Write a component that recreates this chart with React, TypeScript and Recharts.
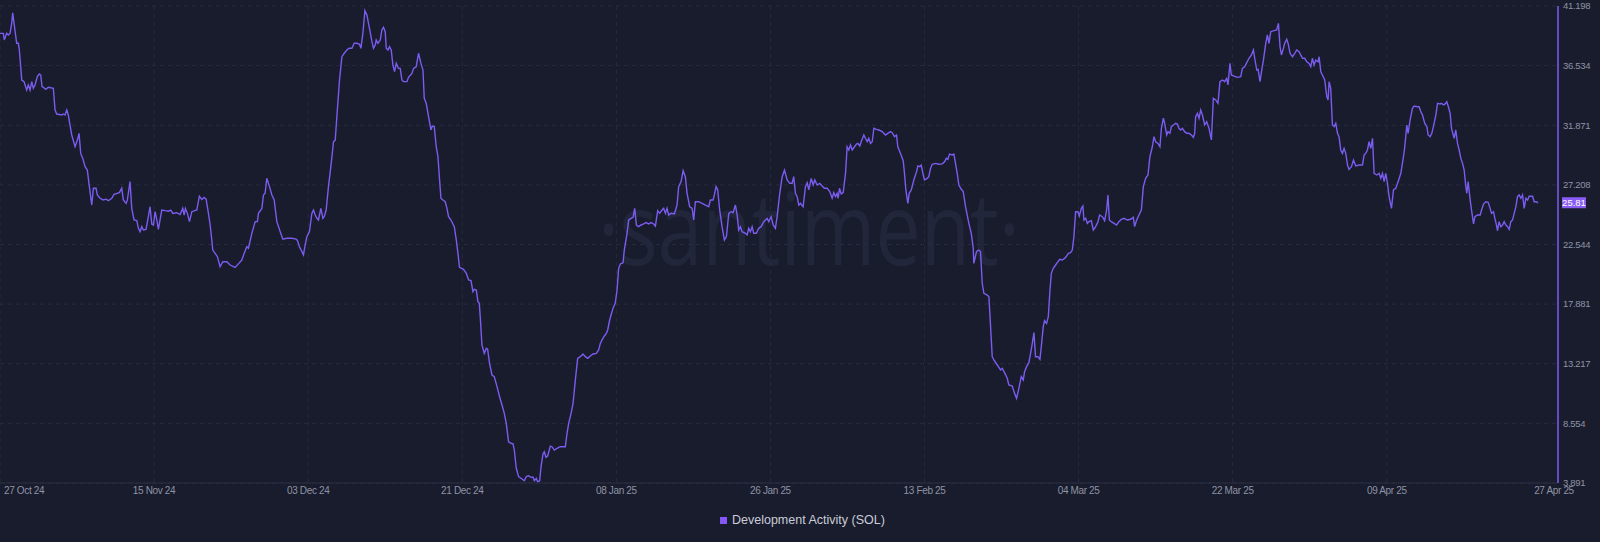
import React from 'react';
import { LineChart, Line, XAxis, YAxis, CartesianGrid, ReferenceLine } from 'recharts';

// Days since 27 Oct 24
const dayOffsets = [
  0.00,0.39,0.50,0.78,0.97,1.17,1.37,1.48,1.64,1.95,
  2.14,2.26,2.42,2.54,2.81,3.12,3.31,3.51,3.71,3.89,
  4.09,4.36,4.59,4.76,4.91,5.06,5.34,5.65,6.23,6.43,
  6.63,7.21,7.40,7.60,7.80,7.98,8.18,8.38,8.77,9.04,
  9.23,9.43,9.67,9.94,10.20,10.44,10.72,10.91,11.22,11.37,
  11.69,12.07,12.39,12.66,13.06,13.32,13.94,14.22,14.41,14.73,
  14.88,15.19,15.39,15.66,15.98,16.17,16.36,16.56,16.75,17.06,
  17.33,17.53,17.73,17.92,18.12,18.32,18.50,18.90,19.29,19.67,
  19.95,20.19,20.65,21.04,21.35,21.51,21.66,21.89,22.13,22.41,
  22.99,23.29,23.58,23.84,24.08,24.35,24.55,24.74,24.86,25.13,
  25.40,25.71,26.03,26.50,26.88,27.47,27.85,28.25,28.52,28.83,
  29.02,29.42,29.81,30.07,30.19,30.59,30.78,30.97,31.17,31.48,
  31.76,32.03,32.34,32.73,33.04,33.51,34.09,34.60,34.75,34.98,
  35.18,35.45,35.65,35.85,36.15,36.43,36.62,36.82,37.02,37.20,
  37.48,37.72,37.87,38.10,38.37,38.69,38.96,39.16,39.35,39.66,
  39.94,40.21,40.52,40.79,41.11,41.38,41.69,42.00,42.16,42.39,
  42.63,42.86,43.16,43.45,43.63,43.83,43.95,44.15,44.42,44.61,
  44.80,45.00,45.12,45.32,45.50,45.70,45.90,46.09,46.29,46.55,
  46.75,46.95,47.14,47.54,47.72,48.12,48.31,48.62,48.89,49.17,
  49.41,49.56,49.79,50.06,50.34,50.49,50.73,50.96,51.16,51.35,
  51.51,51.74,52.01,52.21,52.40,52.68,52.91,53.07,53.30,53.45,
  53.68,54.15,54.47,54.74,55.02,55.25,55.40,55.64,55.83,55.99,
  56.10,56.30,56.57,56.81,56.96,57.19,57.47,57.74,58.06,58.36,
  58.64,58.91,59.14,59.41,59.69,59.93,60.08,60.31,60.58,60.86,
  61.25,61.48,61.75,62.03,62.26,62.42,62.65,62.80,63.04,63.20,
  63.43,63.58,63.78,63.97,64.29,64.48,64.75,65.07,65.45,66.04,
  66.24,66.43,66.71,66.94,67.21,67.48,67.79,68.10,68.38,68.65,
  68.96,69.28,69.66,69.93,70.13,70.33,70.60,70.83,70.99,71.22,
  71.38,71.61,71.88,72.08,72.27,72.47,72.78,72.93,73.25,73.44,
  73.72,73.95,74.14,74.34,74.61,74.89,75.19,75.47,75.78,76.06,
  76.36,76.56,76.83,77.06,77.34,77.53,77.73,77.92,78.11,78.39,
  78.78,79.09,79.28,79.56,79.80,80.06,80.26,80.57,80.85,81.04,
  81.23,81.62,82.02,82.40,82.79,82.99,83.30,83.45,83.65,83.84,
  84.07,84.35,84.62,84.86,85.13,85.41,85.64,85.91,86.11,86.29,
  86.49,86.69,87.08,87.28,87.46,87.66,87.86,88.05,88.36,88.63,
  88.91,89.22,89.61,89.80,90.08,90.32,90.58,90.78,91.09,91.37,
  91.64,91.95,92.26,92.53,92.72,92.92,93.12,93.31,93.51,93.82,
  94.09,94.29,94.48,94.76,94.99,95.18,95.46,95.76,96.04,96.31,
  96.63,96.93,97.21,97.40,97.60,97.79,97.91,98.07,98.26,98.50,
  98.77,98.96,99.15,99.35,99.55,99.82,100.05,100.21,100.44,100.60,
  100.91,101.10,101.30,101.49,101.69,101.89,102.08,102.39,102.66,103.06,
  103.44,103.71,104.03,104.22,104.49,104.73,104.88,105.19,105.51,105.66,
  105.82,106.05,106.21,106.45,106.75,107.07,107.22,107.45,107.61,107.85,
  108.00,108.31,108.50,108.70,108.90,109.29,109.67,110.07,110.34,110.54,
  110.72,110.92,111.24,111.43,111.62,111.82,112.01,112.29,112.52,112.79,
  113.18,113.46,113.69,113.76,114.08,114.35,114.54,114.74,114.93,115.33,
  115.52,115.63,115.91,116.10,116.50,116.88,117.08,117.35,117.66,117.85,
  118.25,118.44,118.75,119.02,119.30,119.53,119.69,119.92,120.19,120.39,
  120.59,120.78,120.97,121.24,121.48,121.64,121.87,122.02,122.26,122.46,
  122.64,122.81,123.04,123.31,123.58,123.81,124.09,124.36,124.60,124.80,
  125.06,125.26,125.45,125.65,125.92,126.08,126.32,126.50,126.62,126.82,
  127.02,127.20,127.48,127.72,127.99,128.26,128.45,128.77,129.04,129.27,
  129.43,129.59,129.82,130.13,130.44,130.71,130.99,131.30,131.69,132.08,
  132.39,132.54,132.78,133.05,133.33,133.56,133.83,134.10,134.33,134.61,
  134.80,135.00,135.27,135.50,135.67,135.90,136.05,136.29,136.44,136.67,
  136.83,137.07,137.34,137.53,137.72,137.92,138.12,138.39,138.62,138.89,
  139.17,139.41,139.56,139.67,139.87,140.06,140.26,140.46,140.73,140.96,
  141.23,141.51,141.74,142.01,142.28,142.51,142.79,143.06,143.30,143.45,
  143.68,143.84,144.15,144.55,144.94,145.13,145.40,145.64,145.91,146.19,
  146.42,146.57,146.81,146.96,147.19,147.39,147.59,147.86,148.05,148.24,
  148.44,148.83,149.14,149.34,149.53,149.69,149.93,150.08,150.31,150.47,
  150.70,150.98,151.25,151.48,151.75,151.95,152.15,152.41,152.65,152.92,
  153.12,153.31,153.50,153.70,153.97,154.09,154.29,154.48,154.75,154.99,
  155.14,155.26,155.45,155.65,155.84,156.04,156.24,156.42,156.62,156.82,
  157.01,157.21,157.41,157.59,157.87,158.11,158.38,158.77,159.16,159.35,
  159.54,159.74,159.93,160.13,160.33,160.52,160.83,161.10,161.30,161.50,
  161.69,161.88,162.08,162.27,162.55,162.78,163.05,163.32,163.64,163.95,
  164.10,164.34,164.49,164.72,165.00,165.19,165.59,165.77,165.98,166.17,
  166.44,166.68,166.83,167.06,167.26,167.53,167.73,167.93,168.23,168.39,
  168.63,168.82,169.01,169.17,169.40,169.56,169.71,169.87,170.06,170.26,
  170.45,170.65,170.85,171.04,171.23,171.35,171.50,171.74,171.90,172.13,
  172.29,172.60,172.91,173.07,173.30,173.57,173.84,174.07,174.23,174.47,
  174.62,174.77,174.94,175.12,175.32,175.52,175.71,175.91,176.11,176.30,
  176.49,176.69,176.88,177.08,177.27,177.46,177.66,177.86,178.05,178.25,
  178.45,178.63,179.03,179.22,179.42,179.68,
];

const activityValues = [
  39.06,39.06,38.54,39.06,38.93,39.06,39.84,40.67,39.84,38.28,
  38.28,37.76,36.45,35.41,35.28,34.63,35.02,34.63,35.28,34.76,
  35.02,35.67,35.88,35.80,34.89,34.84,34.68,34.84,34.76,33.06,
  32.75,32.67,32.75,32.67,33.06,32.67,31.89,31.11,30.19,30.71,
  31.24,29.67,29.28,28.63,28.37,27.07,25.63,26.94,26.94,26.42,
  26.16,26.03,26.09,25.97,26.16,26.47,26.60,26.94,26.03,25.76,
  26.03,27.46,25.37,24.46,24.41,23.81,23.55,23.94,23.68,23.73,
  24.72,25.50,24.15,24.07,25.11,24.46,23.73,25.24,25.19,25.15,
  25.24,24.98,25.03,24.89,25.37,24.85,25.37,24.98,24.33,25.11,
  25.24,26.32,26.06,26.22,26.09,24.98,24.07,22.90,22.11,21.85,
  21.59,20.81,21.20,21.20,20.94,20.75,21.03,21.33,21.85,22.37,
  22.25,23.42,24.33,24.33,24.98,25.37,26.42,26.55,27.72,27.07,
  26.42,26.03,24.33,23.55,22.96,23.03,23.03,22.96,22.85,22.37,
  22.11,21.73,22.51,23.16,23.55,24.98,25.24,24.85,24.59,24.46,
  25.37,24.59,24.72,25.24,27.07,28.89,30.58,30.71,32.54,35.41,
  37.23,37.50,37.76,37.89,37.89,38.28,38.28,38.20,37.89,39.06,
  40.83,40.50,39.45,38.41,37.89,38.15,38.54,38.28,38.54,39.32,
  39.53,39.19,37.89,37.76,38.02,37.76,36.58,36.06,36.71,36.32,
  36.32,35.41,35.28,35.28,35.62,35.93,36.32,36.45,37.50,36.71,
  36.19,33.98,33.59,32.54,31.50,31.80,31.76,30.19,29.41,27.59,
  26.16,26.03,25.89,25.37,24.72,24.46,24.15,23.94,22.90,22.11,
  20.76,20.60,20.29,19.77,19.72,18.85,19.03,18.98,18.07,17.94,
  16.90,14.69,14.03,14.42,14.35,13.25,12.34,12.21,11.43,10.64,
  9.99,9.34,8.56,7.12,7.00,6.95,6.47,5.04,4.39,4.26,
  4.07,4.39,4.46,4.33,4.35,4.07,4.26,3.99,4.07,5.16,
  6.16,6.34,5.90,6.00,6.78,6.73,6.47,6.60,6.73,6.73,
  7.78,8.56,9.34,10.12,11.95,13.64,13.77,13.98,13.77,13.64,
  13.82,13.98,14.03,14.30,14.81,15.08,15.39,15.60,15.86,16.64,
  17.03,17.55,17.99,18.98,20.68,21.02,21.12,22.11,23.42,24.46,
  24.59,24.67,25.37,24.07,23.94,24.07,24.15,24.26,24.15,24.26,
  24.15,23.99,25.19,24.98,25.24,25.37,24.98,25.37,24.85,24.98,
  24.93,25.63,27.07,27.46,28.32,27.85,26.55,25.50,25.37,24.46,
  25.89,25.89,25.76,25.63,25.50,26.03,26.03,26.42,27.07,26.81,
  25.24,23.94,22.90,23.16,24.98,25.11,25.03,25.63,24.85,23.68,
  23.94,23.55,23.42,23.29,23.81,23.55,23.94,23.42,23.42,23.81,
  23.94,24.33,24.59,24.33,24.72,24.07,23.81,24.72,26.55,27.85,
  28.37,27.59,27.33,27.33,27.85,26.55,26.29,25.63,25.76,25.50,
  27.07,27.38,26.81,27.72,27.20,27.59,27.20,27.33,27.12,26.94,
  26.94,26.68,26.16,26.60,26.29,26.55,26.16,26.94,26.50,26.60,
  28.11,30.19,29.94,30.33,29.94,30.19,30.40,30.45,30.25,30.58,
  31.11,30.85,30.58,30.85,30.45,30.58,31.63,31.55,31.50,31.37,
  31.11,31.24,31.37,31.29,30.98,31.11,30.19,29.67,29.10,28.11,
  26.81,25.76,26.55,26.81,27.59,28.24,28.69,28.63,28.76,27.98,
  27.59,27.72,27.85,28.50,28.82,28.89,28.82,28.85,29.02,29.28,
  29.20,29.62,29.55,29.62,28.89,28.11,27.20,26.86,26.68,25.50,
  24.20,23.42,22.25,21.07,22.00,22.11,22.00,19.51,18.73,18.59,
  18.46,17.16,13.77,13.51,13.12,12.73,12.86,12.52,12.08,11.56,
  11.48,11.04,10.51,11.29,12.21,11.95,12.60,12.99,13.30,14.03,
  14.81,15.65,13.77,13.77,13.56,14.55,16.12,16.59,16.38,16.90,
  18.85,20.29,20.68,20.94,21.20,21.38,21.33,21.46,21.64,21.85,
  21.90,22.11,23.16,25.11,25.11,24.77,25.37,25.55,24.46,24.59,
  24.20,24.33,24.41,23.68,23.94,24.33,24.85,24.72,24.41,25.24,
  26.42,24.46,24.33,24.20,24.07,24.33,24.52,24.59,24.46,24.52,
  24.67,23.94,24.46,24.85,25.24,27.07,27.72,27.98,29.41,30.19,
  30.98,30.58,30.45,30.19,31.63,32.42,32.02,31.11,31.37,31.24,
  31.76,31.89,32.02,31.96,31.63,31.50,31.63,31.37,31.24,31.24,
  31.11,30.93,31.24,32.54,32.81,32.42,33.06,32.67,31.89,32.15,
  31.63,30.72,33.98,33.85,33.59,35.28,35.41,35.28,35.54,35.02,
  36.71,35.80,35.72,35.62,35.67,36.32,36.45,36.77,37.11,37.37,
  37.76,37.11,36.19,36.24,35.28,36.19,36.97,38.28,38.93,38.28,
  39.19,39.27,39.32,39.84,38.02,37.37,37.89,38.28,38.59,38.28,
  37.50,37.23,37.50,37.76,37.63,37.37,37.11,37.11,36.84,36.71,
  36.45,37.11,36.58,36.97,36.84,37.23,36.06,35.80,35.41,34.11,
  33.85,35.28,34.76,31.89,31.76,32.02,31.24,30.98,29.94,29.67,
  30.06,29.67,28.76,28.42,28.63,29.15,28.69,28.76,28.76,29.55,
  29.67,29.94,30.58,30.06,30.85,28.11,27.98,28.11,27.72,28.11,
  27.46,28.11,27.33,26.29,25.37,26.81,26.94,27.46,28.11,29.41,
  30.19,31.89,31.24,32.28,33.19,33.38,33.32,33.32,32.93,32.67,
  32.02,31.76,31.11,30.98,31.24,32.02,32.67,33.59,33.54,33.59,
  33.46,33.54,33.71,33.38,32.80,31.63,31.24,30.85,31.50,30.45,
  29.94,29.28,28.89,28.37,27.07,26.55,27.46,26.03,25.24,24.15,
  24.72,24.85,24.85,25.24,25.71,25.89,25.84,25.37,24.98,25.11,
  24.59,24.20,23.62,24.33,23.94,24.07,24.33,24.07,23.94,23.73,
  24.33,24.46,24.98,25.50,26.29,26.42,26.16,26.42,25.37,26.16,
  26.03,26.32,26.32,25.89,25.89,25.81,
];

const yTicks = [3.891, 8.554, 13.217, 17.881, 22.544, 27.208, 31.871, 36.534, 41.198];
const xTickDays = [0, 18, 36, 54, 72, 90, 108, 126, 144, 162, 182];
const xTickLabels = [
  '27 Oct 24', '15 Nov 24', '03 Dec 24', '21 Dec 24', '08 Jan 25', '26 Jan 25',
  '13 Feb 25', '04 Mar 25', '22 Mar 25', '09 Apr 25', '27 Apr 25',
];
const lastValue = 25.81;
const seriesName = 'Development Activity (SOL)';
const watermarkText = '·santiment·';

const data = dayOffsets.map((d, i) => ({ day: d, value: activityValues[i] }));

const BG = '#191c2c';
const LINE = '#7b5cf0';
const GRID = '#272b3f';
const TICK = '#8e93a6';
const FONT = '"Liberation Sans", Arial, sans-serif';

const XTick = (props: any) => {
  const { x, y, payload } = props;
  const i = xTickDays.indexOf(payload.value);
  const first = i === 0;
  const last = i === xTickDays.length - 1;
  return (
    <text
      x={first ? x + 4 : last ? x - 4 : x}
      y={y}
      dy="0.71em"
      textAnchor={first ? 'start' : 'middle'}
      fill={TICK}
      fontSize={10}
      letterSpacing={-0.35}
      fontFamily={FONT}
    >
      {xTickLabels[i]}
    </text>
  );
};

const YTick = (props: any) => {
  const { x, y, payload } = props;
  return (
    <text x={x} y={y} dy="0.35em" textAnchor="start" fill={TICK} fontSize={9.5} letterSpacing={-0.3} fontFamily={FONT}>
      {payload.value.toFixed(3)}
    </text>
  );
};

const ValueBox = (props: any) => {
  const vb = props.viewBox || {};
  const bx = (vb.x || 0) + (vb.width || 0) + 4;
  const by = vb.y || 0;
  return (
    <g>
      <rect x={bx} y={by - 5.5} width={24} height={11} fill="#8a5cf6" />
      <text x={bx + 12} y={by} dy="0.35em" textAnchor="middle" fill="#ffffff" fontSize={9.5} fontFamily={FONT}>
        {lastValue.toFixed(2)}
      </text>
    </g>
  );
};

export default function App() {
  return (
    <div style={{ position: 'absolute', left: 0, top: 0, width: 1600, height: 542, background: BG, overflow: 'hidden' }}>
      <svg width={1600} height={542} style={{ position: 'absolute', left: 0, top: 0 }}>
        <text
          x={598}
          y={265}
          fontSize={100}
          fontFamily='"Open Sans", sans-serif'
          fill="#22263a"
          textLength={422}
          lengthAdjust="spacingAndGlyphs"
        >
          {watermarkText}
        </text>
      </svg>
      <div style={{ position: 'absolute', left: 0, top: 0 }}>
        <LineChart width={1600} height={542} data={data} margin={{ top: 6, right: 0, bottom: 0, left: 0 }}>
          <CartesianGrid stroke={GRID} strokeDasharray="4 4" />
          <XAxis
            dataKey="day"
            type="number"
            domain={[0, 182]}
            ticks={xTickDays}
            interval={0}
            height={59}
            tickSize={0}
            tickMargin={4}
            tick={<XTick />}
            axisLine={{ stroke: '#2a2e42' }}
            tickLine={false}
          />
          <YAxis
            orientation="right"
            type="number"
            domain={[3.891, 41.198]}
            ticks={yTicks}
            interval={0}
            width={42}
            tickSize={0}
            tickMargin={5}
            tick={<YTick />}
            axisLine={{ stroke: LINE, strokeWidth: 1.5 }}
            tickLine={false}
          />
          <Line
            type="linear"
            dataKey="value"
            stroke={LINE}
            strokeWidth={1.4}
            dot={false}
            isAnimationActive={false}
          />
          <ReferenceLine y={lastValue} stroke="none" ifOverflow="visible" label={<ValueBox />} />
        </LineChart>
      </div>
      <div
        style={{
          position: 'absolute',
          left: 720,
          top: 513,
          display: 'flex',
          alignItems: 'center',
          fontFamily: FONT,
          fontSize: 12.5,
          color: '#c9ccd8',
          whiteSpace: 'nowrap',
        }}
      >
        <span style={{ display: 'inline-block', width: 7, height: 7, background: '#8358f5', marginRight: 5 }} />
        <span>{seriesName}</span>
      </div>
    </div>
  );
}
